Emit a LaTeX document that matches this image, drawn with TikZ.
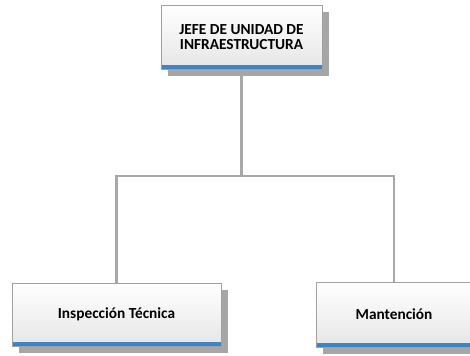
\documentclass[tikz,border=0pt]{standalone}
\usepackage{fontspec}
\setmainfont{Carlito}
\usetikzlibrary{shadows,backgrounds}
\definecolor{linegray}{HTML}{A8A8A8}
\definecolor{shadowgray}{HTML}{A6A6A6}
\definecolor{boxedge}{HTML}{A0A0A0}
\definecolor{stripdark}{HTML}{3A80C4}
\definecolor{striplight}{HTML}{B4D3EE}
\tikzset{
  orgbox/.style={rectangle, draw=boxedge, line width=0.75pt,
    top color=white, bottom color=black!10,
    font=\fontsize{11.5}{11.8}\selectfont\bfseries, align=center,
    general shadow={fill=shadowgray, shadow xshift=5.5pt, shadow yshift=-5.5pt},
    path picture={\shade[top color=striplight, bottom color=stripdark]
      (path picture bounding box.south west) rectangle
      ([yshift=3pt]path picture bounding box.south east);}},
  conn/.style={draw=linegray, line width=2.2pt}
}
\begin{document}
\begin{tikzpicture}[x=0.75pt,y=-0.75pt]
\useasboundingbox (0,0) rectangle (470,355);
\coordinate (j) at (240,176);
\node[orgbox, minimum width=120.75pt, minimum height=48pt] (top) at (241.5,37) {JEFE DE UNIDAD DE\\INFRAESTRUCTURA};
\node[orgbox, minimum width=156.75pt, minimum height=47.25pt] (left) at (116.5,314.5) {Inspección Técnica};
\node[orgbox, minimum width=117pt, minimum height=48.75pt] (right) at (394,314.5) {Mantención};
\begin{scope}[on background layer]
\draw[conn] (top.south) -- (top.south |- j);
\draw[conn] (left.north) |- (j) -| (right.north);
\end{scope}
\end{tikzpicture}
\end{document}
